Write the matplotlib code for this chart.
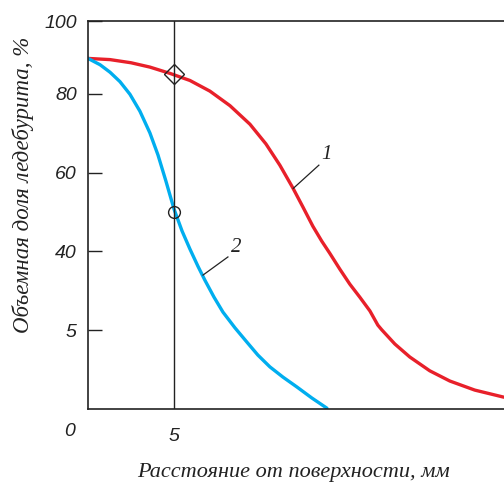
import matplotlib.pyplot as plt

# curve 1 (red) and curve 2 (blue): distance from surface, mm -> ledeburite share, %
x_red = [0.00, 1.28, 2.50, 3.60, 4.77, 5.93, 7.09, 8.26, 9.42, 10.35, 11.16,
         11.92, 12.50, 13.08, 13.60, 14.07, 14.65, 15.23, 15.81, 16.40, 16.86,
         17.09, 17.85, 18.72, 19.88, 21.05, 22.50, 24.19]
y_red = [89.0, 88.7, 87.9, 86.8, 85.2, 83.4, 80.7, 77.0, 72.3, 67.3, 61.9,
         56.1, 51.3, 46.4, 42.6, 39.5, 35.5, 31.7, 28.4, 24.9, 21.3,
         20.1, 16.5, 13.2, 9.7, 7.1, 4.8, 3.0]
x_blue = [0.00, 0.70, 1.28, 1.86, 2.44, 3.02, 3.60, 4.07, 4.53, 5.00, 5.47,
          5.93, 6.40, 6.80, 7.33, 7.85, 8.55, 9.24, 9.88, 10.58, 11.34, 12.15,
          13.02, 13.90]
y_blue = [89.0, 87.4, 85.5, 83.1, 79.9, 75.6, 70.1, 64.5, 57.9, 50.8, 45.2,
          40.6, 36.2, 32.7, 28.4, 24.6, 20.6, 17.0, 13.7, 10.7, 8.1, 5.6,
          2.8, 0.2]

y_ticks = [98.5, 80, 60, 40, 20]
y_labels = ["100", "80", "60", "40", "5"]
x_ticks = [5]
x_labels = ["5"]

red = "#e8202a"
blue = "#00aeef"
ink = "#222222"

fig = plt.figure(figsize=(5.04, 4.84), dpi=100)
ax = fig.add_axes([88 / 504, 1 - 409 / 484, 416 / 504, 388 / 484])

ax.plot(x_red, y_red, color=red, lw=2.4, solid_capstyle="round", solid_joinstyle="round")
ax.plot(x_blue, y_blue, color=blue, lw=2.4, solid_capstyle="round", solid_joinstyle="round")
ax.axvline(5, color=ink, lw=1.0)
ax.plot([5], [85], marker="D", ms=10.5, mfc="none", mec=ink, mew=1.0)
ax.plot([5], [50], marker="o", ms=8.5, mfc="none", mec=ink, mew=1.0)

# curve numbers with leader lines
ax.plot([11.94, 13.43], [56.0, 61.9], color=ink, lw=0.9)
ax.text(13.9, 64.5, "1", fontsize=15, style="italic", family="Liberation Serif",
        ha="center", va="center", color=ink)
ax.plot([6.69, 8.14], [34.0, 38.6], color=ink, lw=0.9)
ax.text(8.6, 41.0, "2", fontsize=15, style="italic", family="Liberation Serif",
        ha="center", va="center", color=ink)

ax.set_xlim(0, 24.2)
ax.set_ylim(0, 98.5)
ax.set_yticks(y_ticks)
ax.set_yticklabels(y_labels)
ax.set_xticks(x_ticks)
ax.set_xticklabels(x_labels)
ax.tick_params(axis="y", direction="in", length=10, width=1.0, pad=8,
               labelsize=14, color=ink)
ax.tick_params(axis="x", length=0, pad=14, labelsize=14)
for lab in ax.get_xticklabels() + ax.get_yticklabels():
    lab.set_fontstyle("italic")
    lab.set_family("Liberation Sans")
    lab.set_color(ink)
ax.text(-18 / 416, -22 / 388, "0", transform=ax.transAxes, fontsize=14,
        style="italic", family="Liberation Sans", color=ink,
        ha="center", va="center")

for side in ["left", "bottom", "top"]:
    ax.spines[side].set_linewidth(1.2)
    ax.spines[side].set_color(ink)
ax.spines["right"].set_visible(False)

ax.set_xlabel("Расстояние от поверхности, мм", fontsize=16, style="italic",
              family="Liberation Serif", color=ink)
ax.set_ylabel("Объемная доля ледебурита, %", fontsize=16.5, style="italic",
              family="Liberation Serif", color=ink)
ax.xaxis.label.set_va("center")
ax.yaxis.label.set_va("center")
ax.xaxis.set_label_coords(0.495, -63 / 388)
ax.yaxis.set_label_coords(-65 / 416, 224 / 388)

fig.savefig("out.png", dpi=100)
